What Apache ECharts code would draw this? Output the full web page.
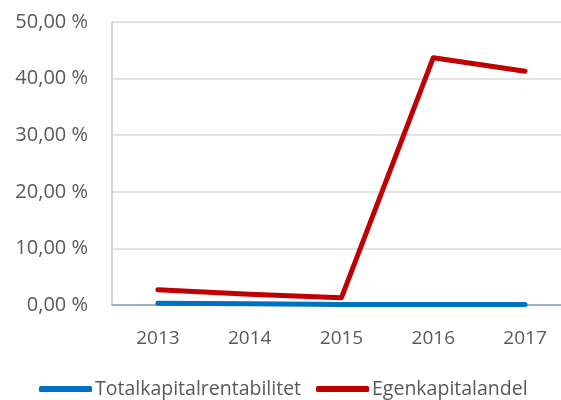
<!DOCTYPE html>
<html>
<head>
<meta charset="utf-8">
<script src="https://cdn.jsdelivr.net/npm/echarts@6/dist/echarts.min.js"></script>
<style>
  html, body { margin: 0; padding: 0; background: #fff; overflow: hidden; }
  #chart { width: 585px; height: 400px; }
</style>
</head>
<body>
<div id="chart"></div>
<script>
var years = ['2013', '2014', '2015', '2016', '2017'];
var totalkapital = [0.3, 0.2, 0.1, 0.1, 0.1];
var egenkapital = [2.7, 1.9, 1.3, 43.7, 41.3];
var yTicks = [0, 10, 20, 30, 40, 50];

var chart = echarts.init(document.getElementById('chart'));

var fontName = '"Open Sans", "Noto Sans", sans-serif';

var option = {
    animation: false,
    grid: { left: 112, top: 22, width: 459, height: 283, containLabel: false },
    legend: {
        bottom: -4,
        left: 34,
        itemWidth: 53,
        itemHeight: 6,
        itemGap: 15,
        icon: 'roundRect',
        textStyle: { fontFamily: fontName, fontSize: 19.5, color: '#595959', padding: [0, 0, 0, -2] },
        data: ['Totalkapitalrentabilitet', 'Egenkapitalandel']
    },
    xAxis: {
        type: 'category',
        data: years,
        boundaryGap: true,
        axisLine: { lineStyle: { color: '#8ea0b6', width: 1.5 } },
        axisTick: { show: false },
        axisLabel: { fontFamily: fontName, fontSize: 19, color: '#595959', margin: 24 }
    },
    yAxis: {
        type: 'value',
        min: yTicks[0],
        max: yTicks[yTicks.length - 1],
        interval: 10,
        axisLine: { show: true, lineStyle: { color: '#c8c8c8', width: 1.5 } },
        axisTick: { show: false },
        splitLine: { lineStyle: { color: '#d9d9d9', width: 1.5 } },
        axisLabel: {
            fontFamily: fontName, fontSize: 20, color: '#595959', margin: 24,
            formatter: function (v) { return v.toFixed(2).replace('.', ',') + ' %'; }
        }
    },
    series: [
        {
            name: 'Totalkapitalrentabilitet',
            type: 'line',
            data: totalkapital,
            symbol: 'none',
            color: '#0070c0',
            lineStyle: { width: 5, cap: 'round', join: 'round' }
        },
        {
            name: 'Egenkapitalandel',
            type: 'line',
            data: egenkapital,
            symbol: 'none',
            color: '#c00000',
            lineStyle: { width: 5, cap: 'round', join: 'round' }
        }
    ]
};

chart.setOption(option);
</script>
</body>
</html>
